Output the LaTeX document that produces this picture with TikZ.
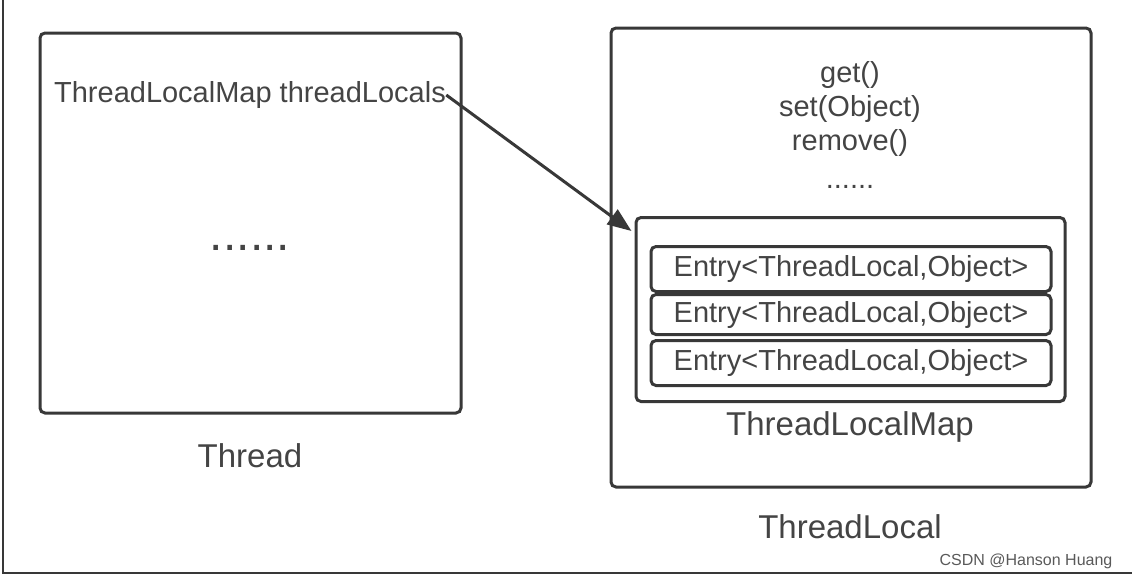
\documentclass[tikz,border=0pt]{standalone}
\usepackage{fontspec}
\setmainfont{Liberation Sans}
\usetikzlibrary{arrows.meta,positioning}

\definecolor{inkgray}{HTML}{383838}
\definecolor{txtgray}{HTML}{444444}

\tikzset{
  box/.style={draw=inkgray,line width=1.5pt,rounded corners=2.5pt,inner sep=0pt},
  entrybox/.style={box,minimum width=200pt,text=txtgray,
    font=\fontsize{14.5}{17}\selectfont},
  smalltxt/.style={text=txtgray,inner sep=0pt,font=\fontsize{14.5}{17}\selectfont},
  bigtxt/.style={text=txtgray,inner sep=0pt,font=\fontsize{16.5}{19}\selectfont},
  ptr/.style={draw=inkgray,line width=1.5pt,-{Triangle[length=12pt,width=9pt]}}
}

\begin{document}
\begin{tikzpicture}[x=0.5pt,y=-0.5pt]
\useasboundingbox (0,0) rectangle (1132,580);
% frame of the screenshot
\draw[inkgray,line width=1pt] (3,0) -- (3,573) -- (1132,573);

% Thread
\node[box,minimum width=210.5pt,minimum height=190pt] (thread) at (250.5,223) {};
\node[smalltxt] (field) at (250,95) {ThreadLocalMap threadLocals};
\node[text=txtgray,inner sep=0pt,font=\fontsize{24}{26}\selectfont] (tdots) at (250,248) {......};
\node[bigtxt] (threadlbl) at (250,456) {Thread};

% ThreadLocal
\node[box,minimum width=240pt,minimum height=229.5pt] (tl) at (851,257.5) {};
\node[smalltxt,align=center,anchor=north] (methods) at (850,61)
  {get()\\set(Object)\\remove()\\[2pt]......};
\node[box,minimum width=214.5pt,minimum height=92pt] (map) at (850.5,309.5) {};
\node[entrybox,minimum height=22.5pt] (entry1) at (851,269) {Entry<ThreadLocal,Object>};
\node[entrybox,minimum height=20pt,below=0pt of entry1] (entry2) {Entry<ThreadLocal,Object>};
\node[entrybox,minimum height=22.5pt,below=1.5pt of entry2] (entry3) {Entry<ThreadLocal,Object>};
\node[bigtxt] (maplbl) at (850,427) {ThreadLocalMap};
\node[bigtxt] (tllbl) at (850,527) {ThreadLocal};

\draw[ptr] (field.east) -- ([xshift=-1.5pt,yshift=-7.5pt]map.north west);

\node[text=black!65,inner sep=0pt,font=\fontsize{8}{9}\selectfont] (mark) at (1026,561) {CSDN @Hanson Huang};
\end{tikzpicture}
\end{document}
